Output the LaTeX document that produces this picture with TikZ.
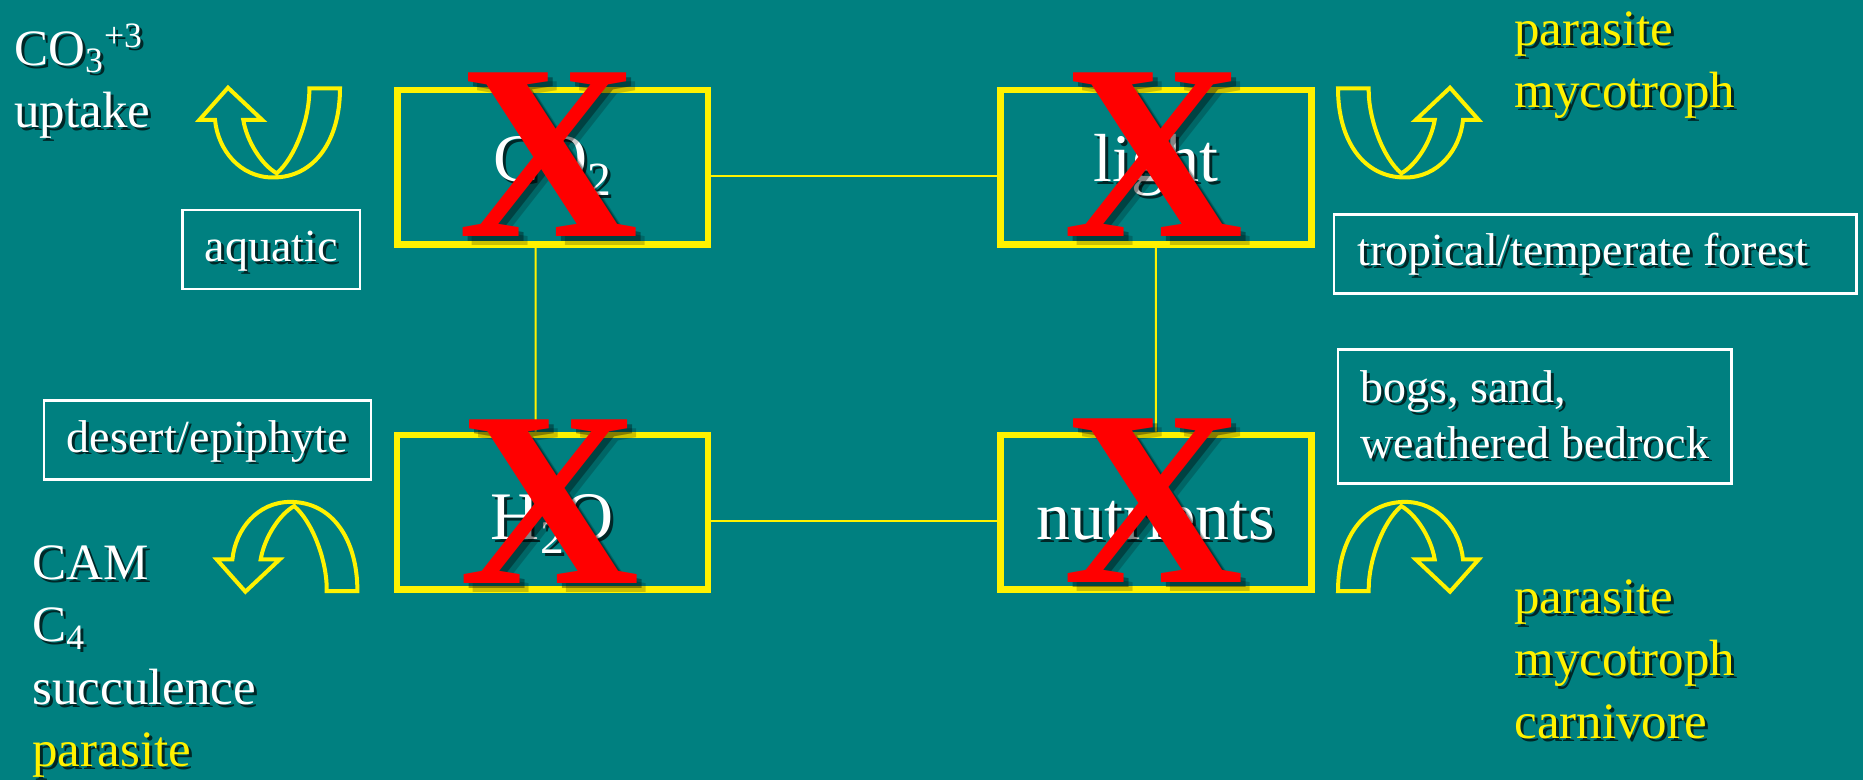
\documentclass[tikz,border=0pt]{standalone}
\usepackage{fontspec}
\setmainfont{Liberation Serif}
\definecolor{bgteal}{RGB}{0,128,128}
\colorlet{shade}{bgteal!30!black}
\newcommand\sh[1]{\rlap{\kern1.5pt\lower1.5pt\hbox{\color{shade}#1}}#1}
\newcommand\redx[3]{%
  \node[xmarkstyle, text=black, text opacity=0.2] (#1s2) at (#2+9,#3+9) {X};
  \node[xmarkstyle, text=black, text opacity=0.35] (#1s1) at (#2+5,#3+5) {X};
  \node[xmarkstyle] (#1) at (#2,#3) {X};}
\tikzset{
  factorbox/.style={draw=yellow, line width=3.35pt, minimum width=155.4pt, minimum height=77.2pt,
    text=white, font=\fontsize{34}{40}\selectfont, inner sep=0pt},
  topbox/.style={factorbox, text height=24pt, text depth=10pt},
  lowbox/.style={factorbox, text height=30pt, text depth=3pt},
  labelbox/.style={draw=white, line width=1.35pt, text=white, font=\fontsize{23}{28}\selectfont,
    minimum height=39.5pt, inner xsep=0pt},
  labelone/.style={labelbox, text height=16pt, text depth=4pt},
  sidetext/.style={anchor=north west, inner sep=0pt, align=left,
    font=\fontsize{25.5}{31.25}\selectfont, text=white},
  linkline/.style={draw=yellow, line width=1pt},
  uarrow/.style={draw=yellow, line width=2pt, line join=miter},
  xmarkstyle/.style={text=red, font=\fontsize{125}{130}\selectfont\bfseries, inner sep=0pt, anchor=base},
  uturnpic/.pic={\draw[uarrow] (215,120) -- (199.3,120) -- (228,87.7) -- (262.3,120) -- (243.3,120)
      .. controls (247,142) and (262,165) .. (276.7,173.3)
      .. controls (295,158) and (310,118) .. (309.3,88.3) -- (340,88.3)
      .. controls (340,140) and (315,177.5) .. (273,177.5)
      .. controls (240,177.5) and (218,150) .. cycle;}
}
\begin{document}
\begin{tikzpicture}[x=0.5pt, y=-0.5pt]
\useasboundingbox (0,0) rectangle (1863,780);
\fill[bgteal] (0,0) rectangle (1863,780);

% factor boxes
\node[topbox] (co2) at (552.7,167.2) {\sh{CO\textsubscript{2}}};
\node[topbox] (light) at (1155.9,167.2) {\sh{light}};
\node[lowbox] (h2o) at (552.5,512.2) {\sh{H\textsubscript{2}O}};
\node[lowbox] (nut) at (1155.8,512.2) {\sh{nutrients}};

% connectors
\draw[linkline] ([yshift=-4.4pt]co2.east) -- ([yshift=-4.4pt]light.west);
\draw[linkline] ([xshift=-8.5pt]co2.south) -- ([xshift=-8.5pt]h2o.north);
\draw[linkline] (light.south) -- (nut.north);
\draw[linkline] ([yshift=-4.2pt]h2o.east) -- ([yshift=-4.2pt]nut.west);

% label boxes
\node[labelone, minimum width=88.65pt] (aq) at (271.3,249.5) {\sh{aquatic}};
\node[labelone, minimum width=163.5pt] (des) at (207.5,440) {\sh{desert/epiphyte}};
\node[labelone, minimum width=261.35pt] (trop) at (1595.3,254) {\makebox[237.9pt][l]{\sh{tropical/temperate forest}}};
\node[labelbox, minimum width=196.85pt, minimum height=67pt, align=left] (bog) at (1534.9,416.3)
  {\sh{bogs, sand,}\\\sh{weathered bedrock}};

% side texts
\node[sidetext] (uptake) at (14,23) {\rule{0pt}{21pt}\sh{CO\textsubscript{3}\textsuperscript{+3}}\\\sh{uptake}};
\node[sidetext, text=yellow] (trtext) at (1514,3) {\rule{0pt}{21pt}\sh{parasite}\\\sh{mycotroph}};
\node[sidetext] (bltext) at (32,537) {\rule{0pt}{21pt}\sh{CAM}\\\sh{C\textsubscript{4}}\\\sh{succulence}\\\textcolor{yellow}{\sh{parasite}}};
\node[sidetext, text=yellow] (brtext) at (1514,571) {\rule{0pt}{21pt}\sh{parasite}\\\sh{mycotroph}\\\sh{carnivore}};

% u-turn arrows
\pic (ut1) at (0,0) {uturnpic};
\pic[xscale=-1] (ut2) at (1678,0) {uturnpic};
\pic[yscale=-1] (ut3) at (17.4,679.4) {uturnpic};
\pic[xscale=-1, yscale=-1] (ut4) at (1678,679.4) {uturnpic};

% crosses
\redx{xco2}{549.2}{236.7}
\redx{xlight}{1153.4}{236.7}
\redx{xh2o}{549.5}{583.3}
\redx{xnut}{1153.5}{582}
\end{tikzpicture}
\end{document}
